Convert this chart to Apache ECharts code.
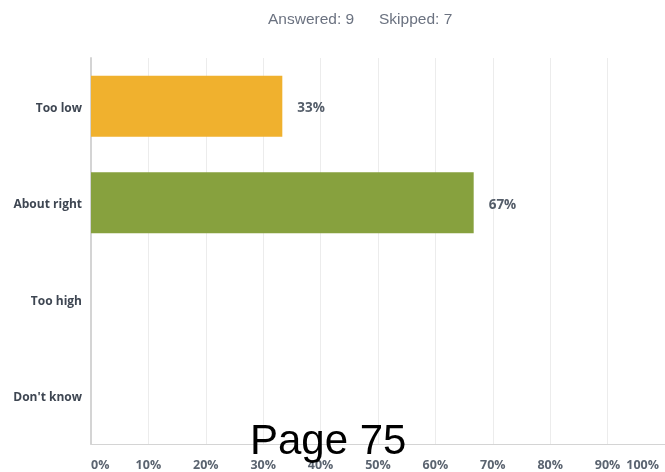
<!DOCTYPE html>
<html><head><meta charset="utf-8">
<script src="https://cdn.jsdelivr.net/npm/echarts@6/dist/echarts.min.js"></script>
<style>html,body{margin:0;padding:0;background:#fff}#c{width:665px;height:472px}</style>
</head><body><div id="c"></div>
<script>
const categories = ['Too low', 'About right', 'Too high', "Don't know"];
const values = [33.33, 66.67, 0, 0];
const valueLabels = ['33%', '67%', '', ''];
const barColors = ['#F0B12E', '#87A13E', '#6BB5C9', '#D25F90'];
const answeredText = 'Answered: 9';
const skippedText = 'Skipped: 7';
const pageText = 'Page 75';

const FONT = '"Open Sans", Lato, sans-serif';
const chart = echarts.init(document.getElementById('c'), null, {renderer: 'canvas'});
chart.setOption({
  animation: false,
  grid: {left: 91, top: 58, width: 580, height: 388, containLabel: false},
  xAxis: {
    type: 'value', min: 0, max: 100, interval: 10,
    axisLine: {show: true, lineStyle: {color: '#d4d4d4', width: 1}},
    axisTick: {show: false},
    splitLine: {show: true, lineStyle: {color: '#ececec', width: 1}},
    axisLabel: {
      margin: 15, color: '#5b6470', fontSize: 12.5, fontWeight: 'bold',
      fontFamily: FONT,
      alignMinLabel: 'left', alignMaxLabel: 'right',
      formatter: v => v === 100 ? '{m|100%}' : v + '%',
      rich: {m: {color: '#5b6470', fontSize: 12.5, fontWeight: 'bold', fontFamily: FONT, padding: [0, 6, 0, 0]}}
    }
  },
  yAxis: {
    type: 'category', data: categories, inverse: true,
    axisLine: {show: true, lineStyle: {color: '#d4d4d4', width: 2}},
    axisTick: {show: false},
    axisLabel: {
      margin: 9, color: '#3e4652', fontSize: 12, fontWeight: 'bold', fontFamily: FONT,
      formatter: v => '{c|' + v + '}',
      rich: {c: {color: '#3e4652', fontSize: 12, fontWeight: 'bold', fontFamily: FONT, padding: [4, 0, 0, 0]}}
    }
  },
  series: [{
    type: 'bar', barWidth: 61,
    data: values.map((v, i) => ({value: v, itemStyle: {color: barColors[i]}, label: {formatter: valueLabels[i]}})),
    label: {show: true, position: 'right', distance: 15, offset: [0, 2], color: '#545d69', fontSize: 13.5, fontWeight: 'bold', fontFamily: FONT}
  }],
  graphic: [
    {type: 'text', left: 268, top: 12, style: {text: answeredText, fill: '#6b7280', fontSize: 15.5, fontFamily: '"Liberation Sans", Arial, sans-serif'}},
    {type: 'text', left: 379, top: 12, style: {text: skippedText, fill: '#6b7280', fontSize: 15.5, fontFamily: '"Liberation Sans", Arial, sans-serif'}},
    {type: 'text', left: 250, top: 421, z: 100, style: {text: pageText, fill: '#000', fontSize: 42, fontFamily: '"Liberation Sans", Arial, sans-serif'}}
  ]
});
</script></body></html>
